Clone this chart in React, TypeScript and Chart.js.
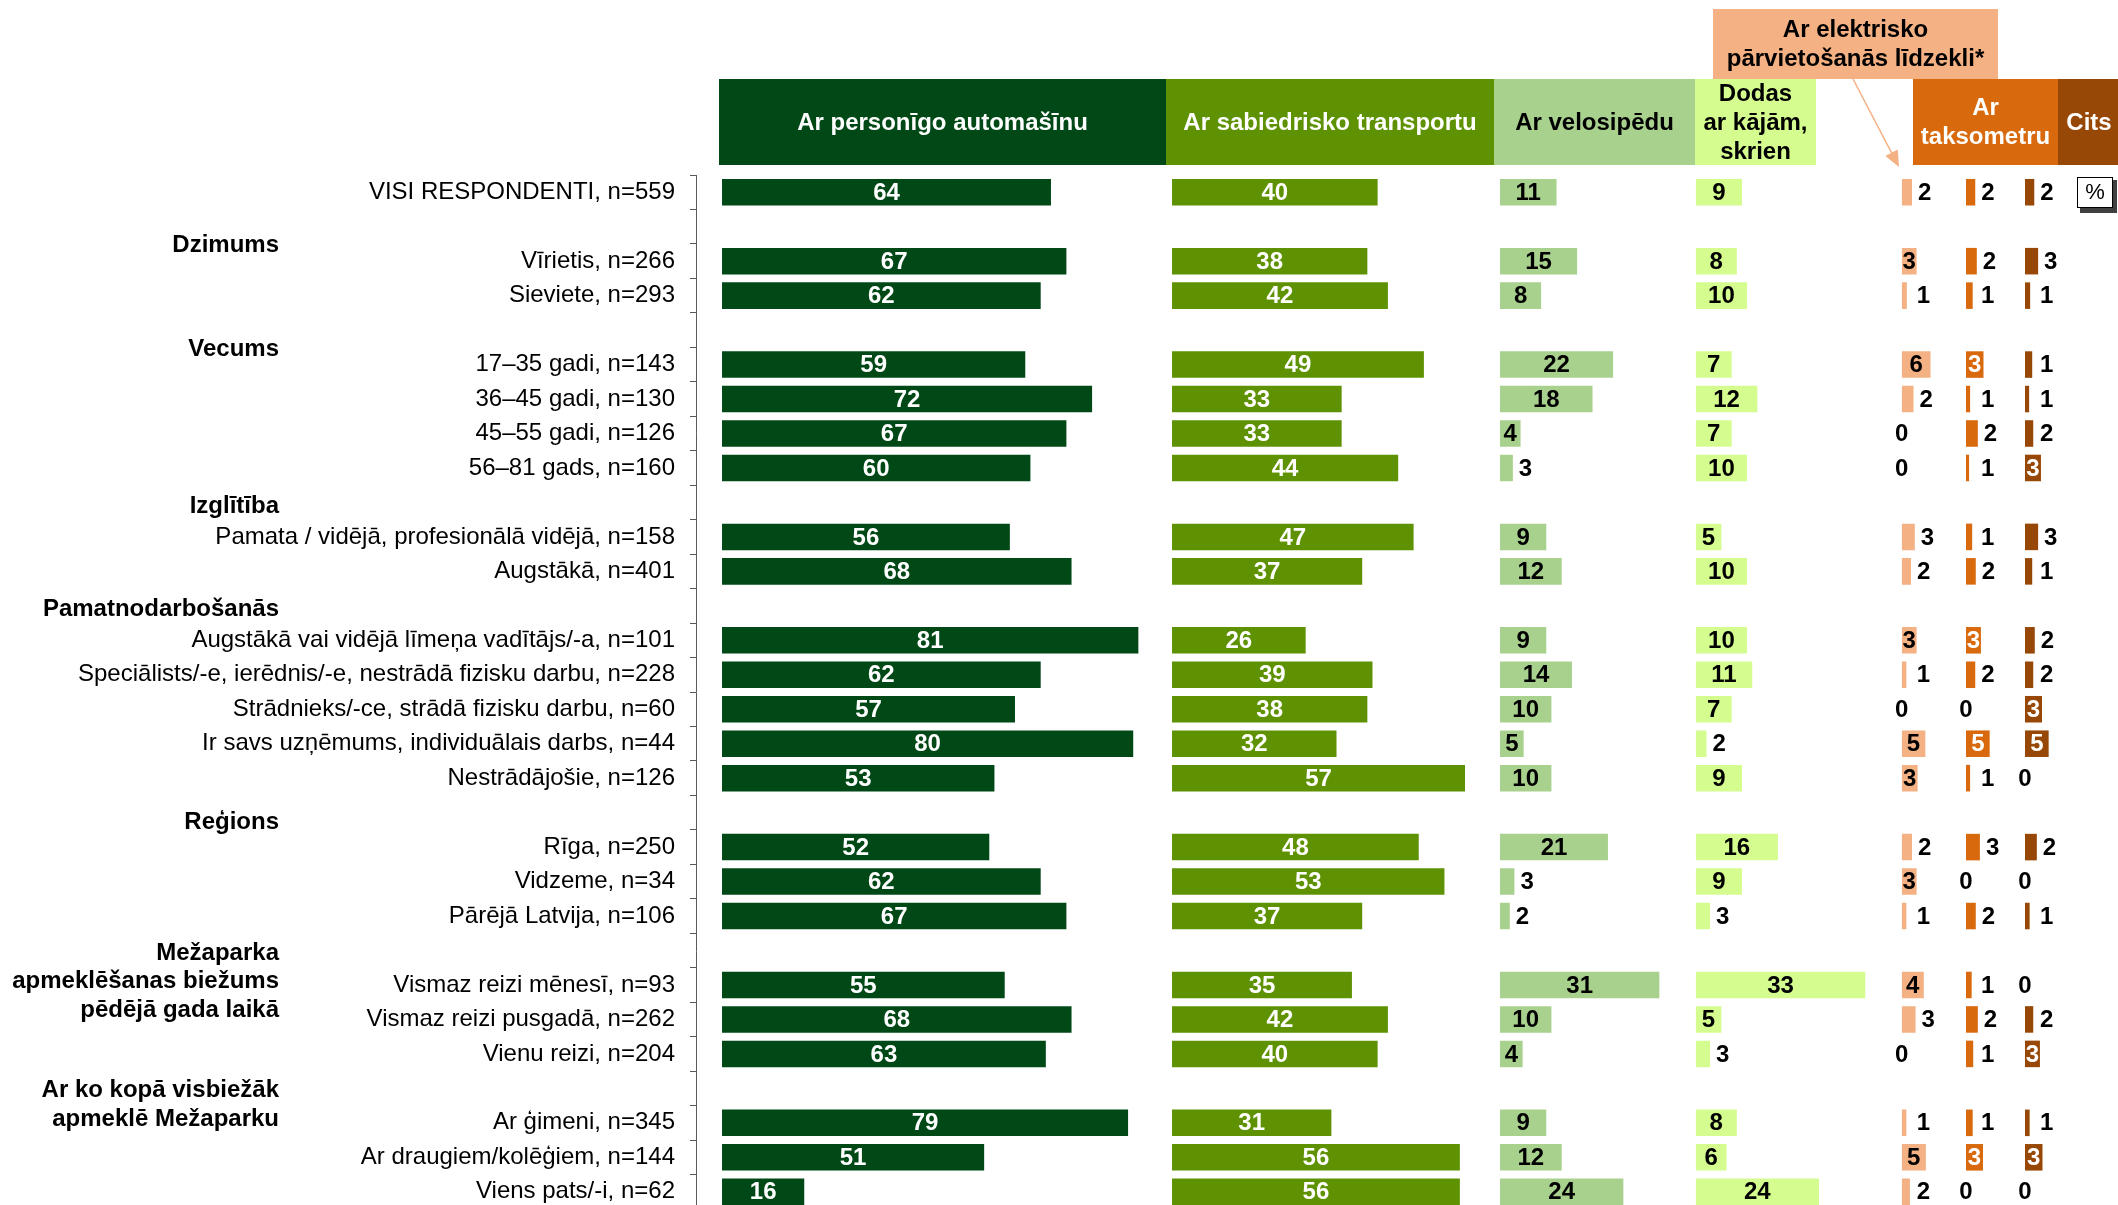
import React, { useEffect, useRef } from 'react';
import { Chart, registerables } from 'chart.js';

Chart.register(...registerables);

// ---------- DATA ----------
const categories: string[] = [
  'VISI RESPONDENTI, n=559',
  '',
  'Vīrietis, n=266',
  'Sieviete, n=293',
  '',
  '17–35 gadi, n=143',
  '36–45 gadi, n=130',
  '45–55 gadi, n=126',
  '56–81 gads, n=160',
  '',
  'Pamata / vidējā, profesionālā vidējā, n=158',
  'Augstākā, n=401',
  '',
  'Augstākā vai vidējā līmeņa vadītājs/-a, n=101',
  'Speciālists/-e, ierēdnis/-e, nestrādā fizisku darbu, n=228',
  'Strādnieks/-ce, strādā fizisku darbu, n=60',
  'Ir savs uzņēmums, individuālais darbs, n=44',
  'Nestrādājošie, n=126',
  '',
  'Rīga, n=250',
  'Vidzeme, n=34',
  'Pārējā Latvija, n=106',
  '',
  'Vismaz reizi mēnesī, n=93',
  'Vismaz reizi pusgadā, n=262',
  'Vienu reizi, n=204',
  '',
  'Ar ģimeni, n=345',
  'Ar draugiem/kolēģiem, n=144',
  'Viens pats/-i, n=62',
];

const groupTitles = [
  { lines: ['Dzimums'], row: 1, shift: 0.53 },
  { lines: ['Vecums'], row: 4, shift: 0.56 },
  { lines: ['Izglītība'], row: 9, shift: 0.12 },
  { lines: ['Pamatnodarbošanās'], row: 12, shift: 0.09 },
  { lines: ['Reģions'], row: 18, shift: 0.29 },
  { lines: ['Mežaparka', 'apmeklēšanas biežums', 'pēdējā gada laikā'], row: 22, shift: 0.07 },
  { lines: ['Ar ko kopā visbiežāk', 'apmeklē Mežaparku'], row: 26, shift: 0.07 },
];

const seriesNames = [
  'Ar personīgo automašīnu',
  'Ar sabiedrisko transportu',
  'Ar velosipēdu',
  'Dodas ar kājām, skrien',
  'Ar elektrisko pārvietošanās līdzekli*',
  'Ar taksometru',
  'Cits',
];

const car = [64, 67, 62, 59, 72, 67, 60, 56, 68, 81, 62, 57, 80, 53, 52, 62, 67, 55, 68, 63, 79, 51, 16];
const publicTransport = [40, 38, 42, 49, 33, 33, 44, 47, 37, 26, 39, 38, 32, 57, 48, 53, 37, 35, 42, 40, 31, 56, 56];
const bicycle = [11, 15, 8, 22, 18, 4, 2.5, 9, 12, 9, 14, 10, 4.6, 10, 21, 2.8, 1.9, 31, 10, 4.4, 9, 12, 24];
const walking = [9, 8, 10, 7, 12, 7, 10, 5, 10, 10, 11, 7, 2.1, 9, 16, 9, 2.8, 33, 5, 2.8, 8, 6, 24];
const electric = [2, 2.9, 1.0, 5.6, 2.3, 0, 0, 2.55, 1.8, 2.9, 0.9, 0, 4.6, 3.1, 2.0, 2.9, 0.9, 4.3, 2.7, 0, 0.9, 4.7, 1.6];
const taxi = [1.8, 2.1, 1.3, 3.4, 0.8, 2.3, 0.6, 1.2, 1.9, 2.9, 1.8, 0, 4.6, 0.8, 2.7, 0, 1.9, 1.1, 2.3, 1.4, 1.3, 3.3, 0];
const other = [1.8, 2.55, 1.0, 1.4, 0.8, 1.6, 3.1, 2.55, 1.4, 1.9, 1.6, 3.3, 4.6, 0, 2.3, 0, 0.9, 0, 1.6, 2.9, 0.9, 3.4, 0];

// ---------- STYLE / LAYOUT ----------
const FONT = '"Liberation Sans", Arial, Helvetica, sans-serif';
const colors = ['#004916', '#5e9202', '#a9d18e', '#d4fc8f', '#f4b183', '#d8690c', '#974806'];
const insideLabelColors = ['#ffffff', '#ffffff', '#000000', '#000000', '#000000', '#ffffff', '#ffffff'];
const panels = [
  { id: 'x1', min: -5.06, max: 87.55 },
  { id: 'x2', min: 0, max: 63.81 },
  { id: 'x3', min: 0, max: 38.07 },
  { id: 'x4', min: 0, max: 40.08 },
  { id: 'x5', min: 0, max: 12.51 },
  { id: 'x6', min: 0, max: 11.48 },
  { id: 'x7', min: 0, max: 18.09 },
];

const headerBoxes = [
  { x: 719, y: 79, w: 447, h: 86, fill: colors[0], text: '#ffffff', lines: ['Ar personīgo automašīnu'] },
  { x: 1166, y: 79, w: 328, h: 86, fill: colors[1], text: '#ffffff', lines: ['Ar sabiedrisko transportu'] },
  { x: 1494, y: 79, w: 201, h: 86, fill: colors[2], text: '#000000', lines: ['Ar velosipēdu'] },
  { x: 1695, y: 79, w: 121, h: 86, fill: colors[3], text: '#000000', lines: ['Dodas', 'ar kājām,', 'skrien'] },
  { x: 1713, y: 9, w: 285, h: 70, fill: colors[4], text: '#000000', lines: ['Ar elektrisko', 'pārvietošanās līdzekli*'] },
  { x: 1913, y: 79, w: 145, h: 86, fill: colors[5], text: '#ffffff', lines: ['Ar', 'taksometru'] },
  { x: 2058, y: 79, w: 70, h: 86, fill: colors[6], text: '#ffffff', lines: ['Cits'] },
];

const seriesData = [car, publicTransport, bicycle, walking, electric, taxi, other];

function expand(vals: number[]): (number | null)[] {
  let j = 0;
  return categories.map((c) => (c === '' ? null : vals[j++]));
}

const valueLabels = {
  id: 'valueLabels',
  afterDatasetsDraw(chart: any) {
    const ctx = chart.ctx;
    ctx.save();
    ctx.font = `bold 24px ${FONT}`;
    ctx.textBaseline = 'middle';
    ctx.textAlign = 'center';
    chart.data.datasets.forEach((ds: any, di: number) => {
      const meta = chart.getDatasetMeta(di);
      meta.data.forEach((bar: any, i: number) => {
        const v = ds.data[i];
        if (v == null) return;
        const txt = String(Math.round(v));
        const tw = ctx.measureText(txt).width;
        const base = bar.base;
        const end = bar.x;
        const w = end - base;
        let x: number;
        let color = '#000000';
        if (v === 0) {
          x = base;
        } else if (w >= tw + 1.5) {
          x = (base + end) / 2;
          color = insideLabelColors[di];
        } else {
          x = Math.max(base + 21.7, end + tw / 2 + 6);
        }
        ctx.fillStyle = color;
        ctx.fillText(txt, x, bar.y + 1);
      });
    });
    ctx.restore();
  },
};

const decorations = {
  id: 'decorations',
  afterDraw(chart: any) {
    const ctx = chart.ctx;
    const ys = chart.scales.y;
    const rowH = (ys.bottom - ys.top) / categories.length;
    ctx.save();
    // group titles
    ctx.font = `bold 24px ${FONT}`;
    ctx.textAlign = 'right';
    ctx.textBaseline = 'middle';
    ctx.fillStyle = '#000000';
    groupTitles.forEach((g) => {
      const y0 = ys.getPixelForValue(g.row) + g.shift * rowH;
      g.lines.forEach((l, k) => ctx.fillText(l, 279, y0 + k * 28.7));
    });
    // headers
    ctx.textAlign = 'center';
    headerBoxes.forEach((h) => {
      ctx.fillStyle = h.fill;
      ctx.fillRect(h.x, h.y, h.w, h.h);
      ctx.fillStyle = h.text;
      const cx = h.x + Math.min(h.w, chart.width - h.x + 2) / 2;
      const cy = h.y + h.h / 2;
      const n = h.lines.length;
      h.lines.forEach((l, k) => ctx.fillText(l, cx, cy + (k - (n - 1) / 2) * 29 + 1));
    });
    // arrow from callout
    const sx = 1853, sy = 79, tx = 1899, ty = 167;
    const ang = Math.atan2(ty - sy, tx - sx);
    ctx.strokeStyle = colors[4];
    ctx.fillStyle = colors[4];
    ctx.lineWidth = 1.5;
    ctx.beginPath();
    ctx.moveTo(sx, sy);
    ctx.lineTo(tx - 12 * Math.cos(ang), ty - 12 * Math.sin(ang));
    ctx.stroke();
    ctx.beginPath();
    ctx.moveTo(tx, ty);
    ctx.lineTo(tx - 16 * Math.cos(ang) + 7 * Math.sin(ang), ty - 16 * Math.sin(ang) - 7 * Math.cos(ang));
    ctx.lineTo(tx - 16 * Math.cos(ang) - 7 * Math.sin(ang), ty - 16 * Math.sin(ang) + 7 * Math.cos(ang));
    ctx.closePath();
    ctx.fill();
    // percent box
    ctx.fillStyle = '#404040';
    ctx.fillRect(2080, 180, 37, 33);
    ctx.fillStyle = '#ffffff';
    ctx.fillRect(2077, 177, 36, 31);
    ctx.strokeStyle = '#000000';
    ctx.lineWidth = 1;
    ctx.strokeRect(2077.5, 177.5, 35, 30);
    ctx.fillStyle = '#000000';
    ctx.font = `22px ${FONT}`;
    ctx.fillText('%', 2095, 193);
    ctx.restore();
  },
};

export default function App() {
  const canvasRef = useRef<HTMLCanvasElement | null>(null);

  useEffect(() => {
    if (!canvasRef.current) return;
    const scales: any = {
      y: {
        type: 'category',
        position: 'left',
        offset: true,
        grid: {
          offset: true,
          drawOnChartArea: false,
          drawTicks: true,
          tickLength: 6,
          color: '#595959',
          lineWidth: 1,
        },
        border: { display: true, color: '#595959', width: 1 },
        ticks: {
          autoSkip: false,
          padding: 15,
          color: '#000000',
          font: { family: FONT, size: 24 },
        },
        afterFit(scale: any) {
          scale.width = 696;
          scale.paddingTop = 0;
          scale.paddingBottom = 0;
        },
      },
    };
    panels.forEach((p) => {
      scales[p.id] = {
        type: 'linear',
        position: 'bottom',
        stack: 'panels',
        stackWeight: p.max - p.min,
        min: p.min,
        max: p.max,
        display: false,
        grid: { display: false },
      };
    });

    const chart = new Chart(canvasRef.current, {
      type: 'bar',
      data: {
        labels: categories,
        datasets: seriesData.map((vals, i) => ({
          label: seriesNames[i],
          data: expand(vals),
          backgroundColor: colors[i],
          borderWidth: 0,
          xAxisID: panels[i].id,
          yAxisID: 'y',
          grouped: false,
          barPercentage: 0.77,
          categoryPercentage: 1.0,
        })),
      },
      options: {
        indexAxis: 'y',
        responsive: false,
        animation: false,
        devicePixelRatio: 1,
        layout: { padding: { top: 175, left: 0, right: 0, bottom: 0 } },
        plugins: {
          legend: { display: false },
          tooltip: { enabled: false },
        },
        scales,
      },
      plugins: [valueLabels, decorations],
    } as any);

    return () => chart.destroy();
  }, []);

  return (
    <div style={{ position: 'absolute', left: 0, top: 0, width: 2118, height: 1205, overflow: 'hidden', background: '#ffffff' }}>
      <canvas ref={canvasRef} width={2118} height={1209} style={{ display: 'block', width: 2118, height: 1209 }} />
    </div>
  );
}
